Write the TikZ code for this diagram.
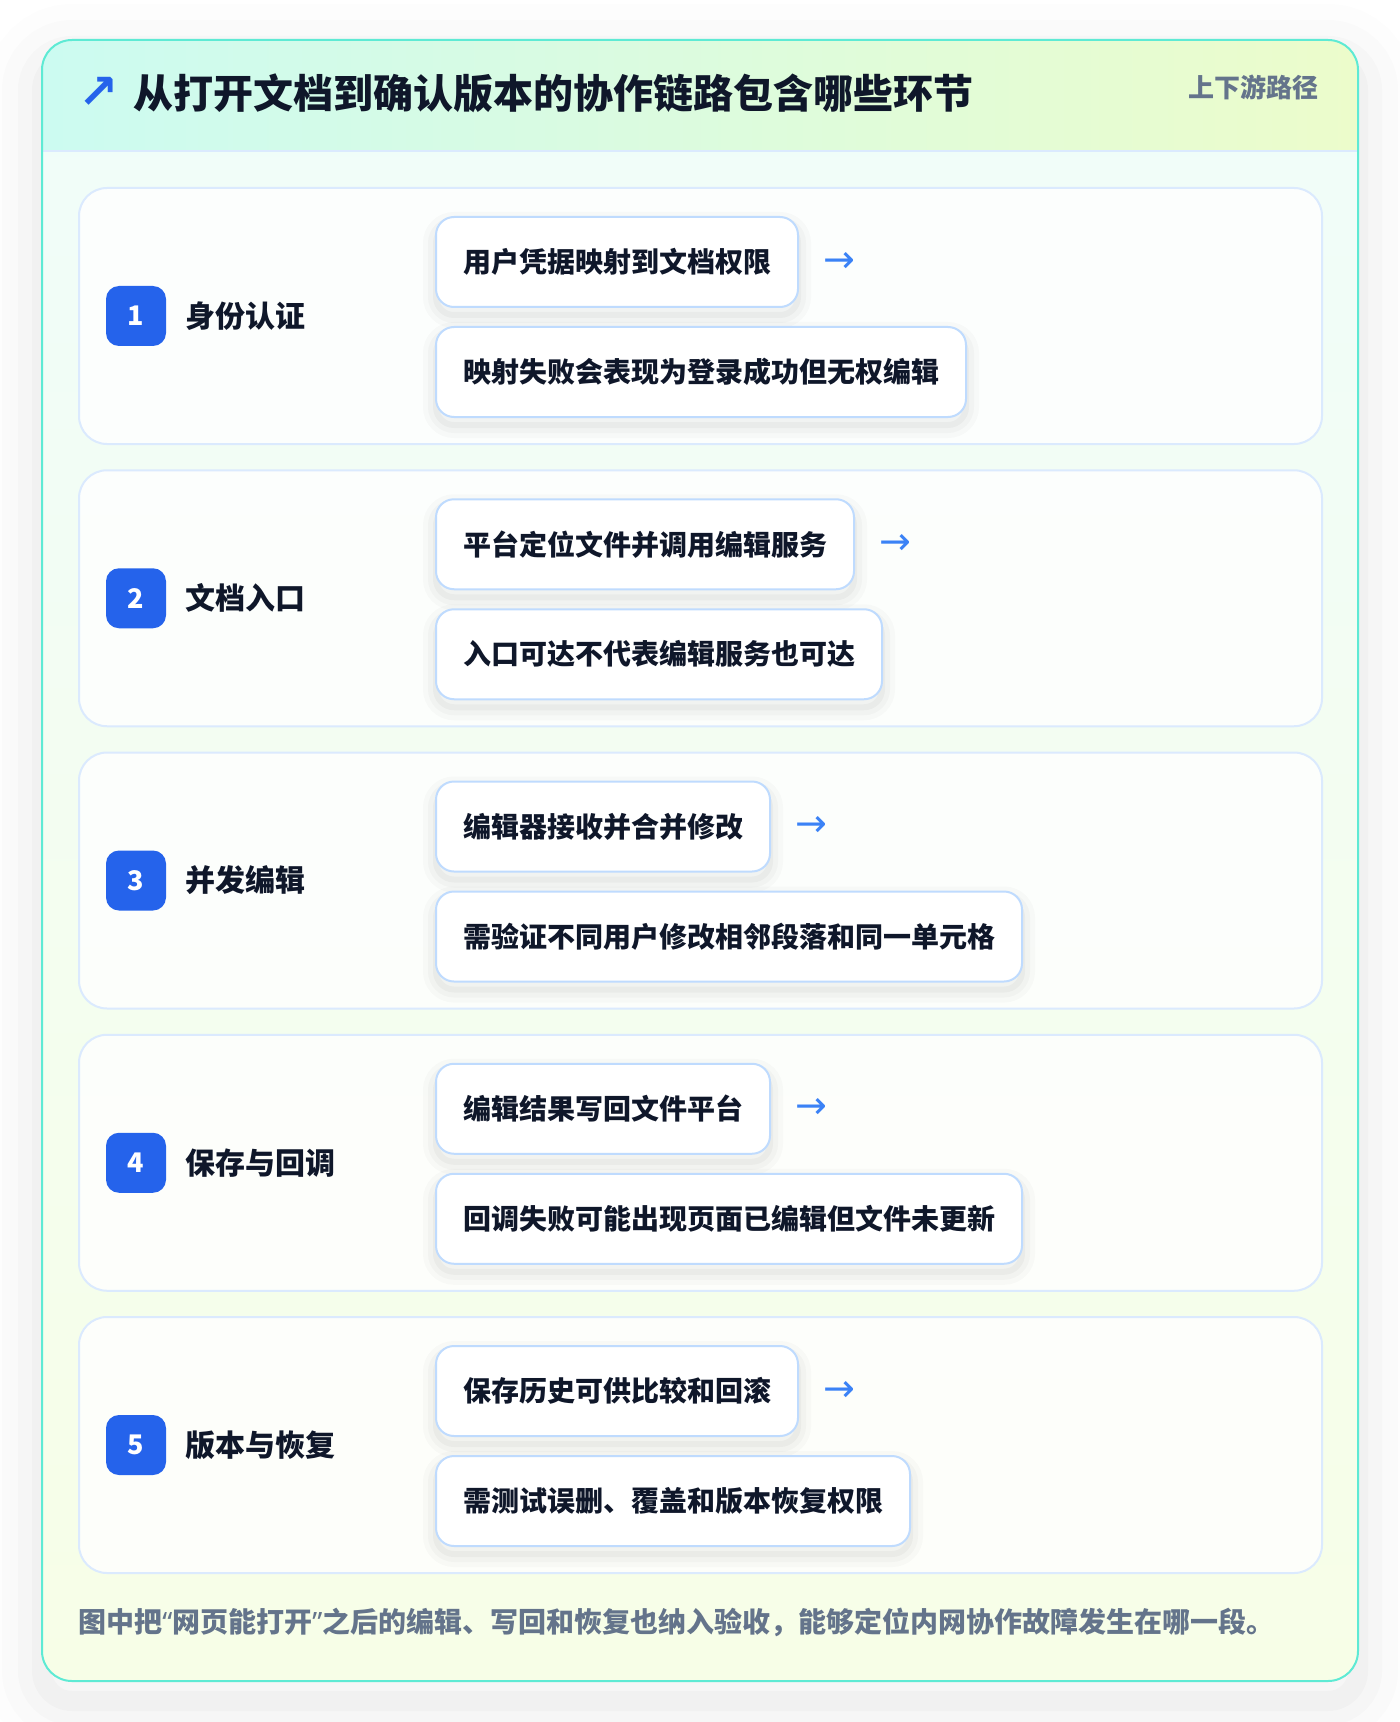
\documentclass[tikz,border=0pt]{standalone}
\usepackage{fontspec}
\setmainfont{Noto Sans CJK SC}
\newfontfamily\arrowfont{DejaVu Sans}
\newfontfamily\quotefont{Noto Sans}
\usetikzlibrary{positioning}
\definecolor{inkdark}{HTML}{0F172A}
\definecolor{inkgray}{HTML}{64748B}
\definecolor{badgeblue}{HTML}{2563EB}
\definecolor{arrowblue}{HTML}{3B82F6}
\definecolor{tealline}{HTML}{5EEAD4}
\definecolor{cardline}{HTML}{DBEAFE}
\definecolor{boxline}{HTML}{BFDBFE}
\definecolor{headleft}{HTML}{CCFBF1}
\definecolor{headright}{HTML}{ECFCCB}
\definecolor{bodytop}{HTML}{F0FDFA}
\definecolor{bodybottom}{HTML}{F7FEE7}
\newcommand{\openq}{{\quotefont “}}
\newcommand{\closeq}{{\quotefont ”}}
\tikzset{
  softshadow/.style = {
    preaction={draw=black, draw opacity=0.02, line width=13pt,
      transform canvas={yshift=-4pt}},
    preaction={draw=black, draw opacity=0.025, line width=8pt,
      transform canvas={yshift=-4pt}},
    preaction={draw=black, draw opacity=0.03, line width=3pt,
      transform canvas={yshift=-4pt}}},% blurred shadow under a box
  wideshadow/.style = {
    preaction={draw=black, draw opacity=0.008, line width=56pt,
      transform canvas={yshift=-10pt}},
    preaction={draw=black, draw opacity=0.012, line width=40pt,
      transform canvas={yshift=-10pt}},
    preaction={draw=black, draw opacity=0.016, line width=24pt,
      transform canvas={yshift=-10pt}},
    preaction={draw=black, draw opacity=0.02, line width=10pt,
      transform canvas={yshift=-10pt}}},% shadow of the outer card
  stepcard/.style = {draw=cardline, line width=1pt, fill=white, fill opacity=0.8,
    text opacity=1, rounded corners=14pt, minimum width=621.5pt,
    minimum height=128pt},% one stage of the chain
  numbadge/.style = {fill=badgeblue, text=white, rounded corners=6.5pt,
    minimum size=30pt, inner sep=0pt, font=\bfseries\fontsize{13.5}{13.5}\selectfont},% stage number
  stagename/.style = {inner sep=0pt, text=inkdark,
    font=\bfseries\fontsize{15}{15}\selectfont},% stage title
  factbox/.style = {softshadow, draw=boxline, line width=1pt, fill=white,
    rounded corners=9pt, minimum height=45pt, inner xsep=13.5pt, anchor=west,
    text=inkdark, font=\bfseries\fontsize{14}{14}\selectfont},% what happens / what to check
  flowarrow/.style = {inner sep=0pt, text=arrowblue,
    font=\arrowfont\fontsize{19}{19}\selectfont}% to the next stage
}
\begin{document}
\begin{tikzpicture}[x=0.5pt, y=0.5pt]
\useasboundingbox (0,0) rectangle (1400,-1722);
\fill[white] (0,0) rectangle (1400,-1722);

% outer card
\fill[white, rounded corners=15pt, wideshadow] (42,-40) rectangle (1358,-1681);
\begin{scope}
\clip[rounded corners=15pt] (42,-40) rectangle (1358,-1681);
\shade[top color=bodytop, bottom color=bodybottom] (42,-40) rectangle (1358,-1681);
\shade[left color=headleft, right color=headright] (42,-40) rectangle (1358,-151);
\end{scope}
\draw[cardline, line width=1pt] (42,-151) -- (1358,-151);
\draw[tealline, line width=1pt, rounded corners=15pt] (42,-40) rectangle (1358,-1681);

% header
\node[inner sep=0pt, text=badgeblue, font=\arrowfont\bfseries\fontsize{24}{24}\selectfont]
  (headarr) at (99,-93) {↗};
\node[anchor=west, inner sep=0pt, text=inkdark,
  font=\bfseries\fontsize{20}{20}\selectfont]
  (title) at (133,-93) {从打开文档到确认版本的协作链路包含哪些环节};
\node[anchor=east, inner sep=0pt, text=inkgray,
  font=\bfseries\fontsize{13}{13}\selectfont]
  (tag) at (1319,-87) {上下游路径};

% 1 身份认证
\node[stepcard] (card1) at (700.5,-316) {};
\node[numbadge] (badge1) at (136,-316) {1};
\node[stagename, right=9.5pt of badge1] (stage1) {身份认证};
\node[factbox] (fact1a) at (435,-262) {用户凭据映射到文档权限};
\node[factbox] (fact1b) at (435,-372) {映射失败会表现为登录成功但无权编辑};
\node[flowarrow, right=12pt of fact1a] (arr1) {→};

% 2 文档入口
\node[stepcard] (card2) at (700.5,-598.25) {};
\node[numbadge] (badge2) at (136,-598.25) {2};
\node[stagename, right=9.5pt of badge2] (stage2) {文档入口};
\node[factbox] (fact2a) at (435,-544.25) {平台定位文件并调用编辑服务};
\node[factbox] (fact2b) at (435,-654.25) {入口可达不代表编辑服务也可达};
\node[flowarrow, right=12pt of fact2a] (arr2) {→};

% 3 并发编辑
\node[stepcard] (card3) at (700.5,-880.5) {};
\node[numbadge] (badge3) at (136,-880.5) {3};
\node[stagename, right=9.5pt of badge3] (stage3) {并发编辑};
\node[factbox] (fact3a) at (435,-826.5) {编辑器接收并合并修改};
\node[factbox] (fact3b) at (435,-936.5) {需验证不同用户修改相邻段落和同一单元格};
\node[flowarrow, right=12pt of fact3a] (arr3) {→};

% 4 保存与回调
\node[stepcard] (card4) at (700.5,-1162.75) {};
\node[numbadge] (badge4) at (136,-1162.75) {4};
\node[stagename, right=9.5pt of badge4] (stage4) {保存与回调};
\node[factbox] (fact4a) at (435,-1108.75) {编辑结果写回文件平台};
\node[factbox] (fact4b) at (435,-1218.75) {回调失败可能出现页面已编辑但文件未更新};
\node[flowarrow, right=12pt of fact4a] (arr4) {→};

% 5 版本与恢复
\node[stepcard] (card5) at (700.5,-1445) {};
\node[numbadge] (badge5) at (136,-1445) {5};
\node[stagename, right=9.5pt of badge5] (stage5) {版本与恢复};
\node[factbox] (fact5a) at (435,-1391) {保存历史可供比较和回滚};
\node[factbox] (fact5b) at (435,-1501) {需测试误删、覆盖和版本恢复权限};
\node[flowarrow, right=12pt of fact5a] (arr5) {→};

% footer
\node[anchor=west, inner sep=0pt, text=inkgray,
  font=\bfseries\fontsize{14}{14}\selectfont]
  (note) at (78,-1622) {图中把\openq 网页能打开\closeq 之后的编辑、写回和恢复也纳入验收，能够定位内网协作故障发生在哪一段。};
\end{tikzpicture}
\end{document}
